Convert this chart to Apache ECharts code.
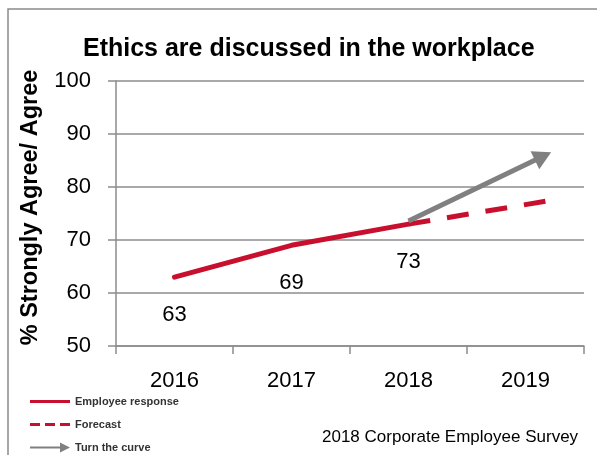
<!DOCTYPE html>
<html>
<head>
<meta charset="utf-8">
<script src="https://cdn.jsdelivr.net/npm/echarts@6/dist/echarts.min.js"></script>
<style>html,body{margin:0;padding:0;background:#fff}#c{width:597px;height:455px}</style>
</head>
<body>
<div id="c"></div>
<script>
const categories = ['2016', '2017', '2018', '2019'];
const responseYears = [2016, 2017, 2018];
const responseValues = [63, 69, 73];
const forecastYears = [2018, 2019.17];
const forecastValues = [73, 77.3];
const curveYears = [2018, 2019.15];
const curveValues = [73.6, 85.8];
const yTicks = [50, 60, 70, 80, 90, 100];

const RED = '#C8102E';
const GRAY = '#808080';
const GRID = '#8C8C8C';
const FONT = '"Liberation Sans", Arial, sans-serif';

const chart = echarts.init(document.getElementById('c'), null, {renderer: 'canvas'});
chart.setOption({
  animation: false,
  textStyle: {fontFamily: FONT},
  title: [
    {text: 'Ethics are discussed in the workplace', left: 78, top: 32,
     textStyle: {fontSize: 25, fontWeight: 'bold', color: '#000', fontFamily: FONT}},
    {text: '2018 Corporate Employee Survey', left: 317, top: 424,
     textStyle: {fontSize: 17, fontWeight: 'normal', color: '#000', fontFamily: FONT}}
  ],
  graphic: [
    {type: 'rect', shape: {x: 8, y: 9, width: 620, height: 480}, style: {fill: 'none', stroke: '#8A8A8A', lineWidth: 1.5}, silent: true}
  ],
  legend: {
    orient: 'vertical', left: 30, top: 396, padding: 0, itemWidth: 40, itemHeight: 10, itemGap: 12,
    textStyle: {fontSize: 11, fontWeight: 'bold', color: '#333', fontFamily: FONT},
    data: [
      {name: 'Employee response', icon: 'path://M0,0M40,10M0,3.5H40V6.5H0Z', itemStyle: {color: RED}},
      {name: 'Forecast', icon: 'path://M0,0M40,10M0,3.5H10V6.5H0Z M15,3.5H25V6.5H15Z M30,3.5H40V6.5H30Z', itemStyle: {color: RED}},
      {name: 'Turn the curve', icon: 'path://M0,4H30V0L40,5L30,10V6H0Z', itemStyle: {color: GRAY}}
    ]
  },
  grid: {left: 116, right: 13, top: 81, bottom: 109},
  xAxis: [
    {type: 'category', data: categories, boundaryGap: true,
     axisLine: {lineStyle: {color: GRID, width: 1.5}},
     axisTick: {show: true, length: 8, alignWithLabel: false, lineStyle: {color: GRID, width: 1.5}},
     axisLabel: {fontSize: 22, color: '#000', margin: 24, fontFamily: FONT},
     splitLine: {show: false}},
    {type: 'value', min: 2015.5, max: 2019.5, show: false, splitLine: {show: false}}
  ],
  yAxis: {
    type: 'value', min: yTicks[0], max: yTicks[yTicks.length - 1], interval: 10,
    name: '% Strongly Agree/ Agree', nameLocation: 'middle', nameRotate: 90, nameGap: 73,
    nameTextStyle: {fontSize: 23.5, fontWeight: 'bold', color: '#000', fontFamily: FONT, padding: [0, 0, 0, 12]},
    axisLine: {show: true, lineStyle: {color: GRID, width: 1.5}},
    axisTick: {show: true, length: 8, lineStyle: {color: GRID, width: 1.5}},
    axisLabel: {fontSize: 22, color: '#000', margin: 25, fontFamily: FONT},
    splitLine: {show: true, lineStyle: {color: GRID, width: 1.5}}
  },
  series: [
    {name: 'Employee response', type: 'line', xAxisIndex: 1,
     data: responseYears.map((y, i) => [y, responseValues[i]]),
     symbol: 'circle', symbolSize: 1, showSymbol: true,
     itemStyle: {color: RED}, lineStyle: {color: RED, width: 5, cap: 'round'},
     label: {show: true, position: 'bottom', distance: 26, fontSize: 22, color: '#000', fontFamily: FONT,
             formatter: p => p.value[1]},
     z: 3},
    {name: 'Forecast', type: 'line', xAxisIndex: 1,
     data: forecastYears.map((y, i) => [y, forecastValues[i]]),
     symbol: 'none', itemStyle: {color: RED},
     lineStyle: {color: RED, width: 5, type: [22, 17], cap: 'butt'}, z: 2},
    {name: 'Turn the curve', type: 'line', xAxisIndex: 1, data: [],
     symbol: 'none', itemStyle: {color: GRAY}, lineStyle: {color: GRAY, width: 5},
     markLine: {
       silent: true, symbol: ['none', 'triangle'], symbolSize: [20, 18],
       label: {show: false},
       lineStyle: {color: GRAY, width: 5, type: 'solid'},
       data: [[{coord: [curveYears[0], curveValues[0]]}, {coord: [curveYears[1], curveValues[1]]}]]
     }, z: 4}
  ]
});
</script>
</body>
</html>
